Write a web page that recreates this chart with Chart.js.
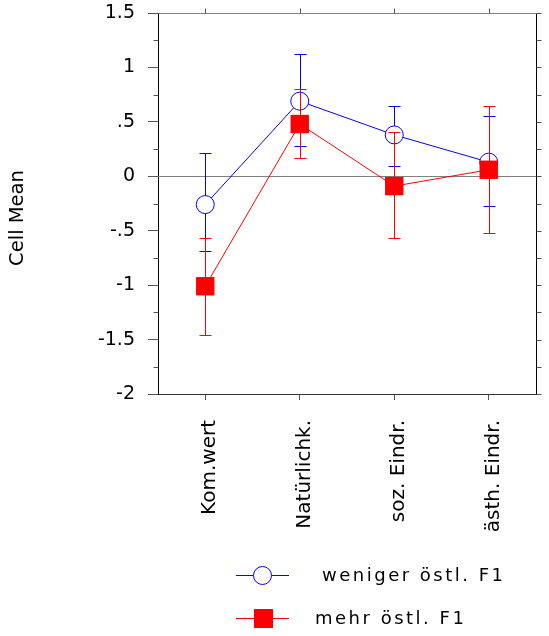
<!DOCTYPE html>
<html>
<head>
<meta charset="utf-8">
<script src="https://cdn.jsdelivr.net/npm/chart.js@4.4.1/dist/chart.umd.min.js"></script>
<style>
  html, body { margin: 0; padding: 0; background: #fff; }
  #wrap { width: 549px; height: 636px; }
</style>
</head>
<body>
<div id="wrap"><canvas id="meanChart" width="549" height="636"></canvas></div>
<script>
// values
const categories = ['Kom.wert', 'Natürlichk.', 'soz. Eindr.', 'ästh. Eindr.'];
const seriesNames = ['weniger östl. F1', 'mehr östl. F1'];
const wenigerMean = [-0.26, 0.69, 0.38, 0.13];
const wenigerUpper = [0.21, 1.12, 0.65, 0.55];
const wenigerLower = [-0.69, 0.28, 0.09, -0.27];
const mehrMean = [-1.01, 0.48, -0.09, 0.06];
const mehrUpper = [-0.57, 0.80, 0.41, 0.65];
const mehrLower = [-1.46, 0.17, -0.57, -0.52];
const yTicks = [1.5, 1, 0.5, 0, -0.5, -1, -1.5, -2];

const FONT = '"DejaVu Sans", Verdana, sans-serif';
const BLUE = '#0000ff';
const RED = '#ff0000';
const seriesColors = [BLUE, RED];

function fmtTick(v) {
    return String(v).replace('0.', '.');
}

// error bars, drawn right before each dataset so the stacking matches
const errorBars = {
    id: 'errorBars',
    beforeDatasetDraw(chart, args) {
        const ds = chart.data.datasets[args.index];
        const y = chart.scales.y;
        const ctx = chart.ctx;
        ctx.save();
        ctx.strokeStyle = seriesColors[args.index];
        ctx.lineWidth = 1;
        ctx.setLineDash([]);
        args.meta.data.forEach((pt, i) => {
            const x = Math.round(pt.x) + 0.5;
            const top = Math.round(y.getPixelForValue(ds.upper[i])) + 0.5;
            const bot = Math.round(y.getPixelForValue(ds.lower[i])) + 0.5;
            ctx.beginPath();
            ctx.moveTo(x, top);
            ctx.lineTo(x, bot);
            ctx.moveTo(x - 6, top);
            ctx.lineTo(x + 6, top);
            ctx.moveTo(x - 6, bot);
            ctx.lineTo(x + 6, bot);
            ctx.stroke();
        });
        ctx.restore();
    }
};

// frame, zero line, minor ticks, title and legend
const frame = {
    id: 'frame',
    beforeDatasetsDraw(chart) {
        const { ctx, chartArea: a, scales } = chart;
        const y0 = Math.round(scales.y.getPixelForValue(0)) + 0.5;
        ctx.save();
        ctx.strokeStyle = '#808080';
        ctx.lineWidth = 1;
        ctx.beginPath();
        ctx.moveTo(a.left, y0);
        ctx.lineTo(a.right, y0);
        ctx.stroke();
        ctx.restore();
    },
    afterDraw(chart) {
        const { ctx, chartArea: a, scales } = chart;
        const L = Math.round(a.left) + 0.5, R = Math.round(a.right) + 0.5;
        const T = Math.round(a.top) + 0.5, B = Math.round(a.bottom) + 0.5;
        ctx.save();
        ctx.lineWidth = 1;
        // top border (gray) and right axis (black)
        ctx.strokeStyle = '#808080';
        ctx.beginPath();
        ctx.moveTo(L, T); ctx.lineTo(R, T);
        ctx.stroke();
        ctx.strokeStyle = '#000';
        ctx.beginPath();
        ctx.moveTo(R, T); ctx.lineTo(R, B);
        ctx.stroke();
        // minor ticks on the left, all ticks on the right
        ctx.strokeStyle = '#555';
        ctx.beginPath();
        for (let v = -2; v <= 1.5001; v += 0.25) {
            const py = Math.round(scales.y.getPixelForValue(v)) + 0.5;
            if (Math.abs(v * 2 - Math.round(v * 2)) > 0.01) {
                ctx.moveTo(L - 5, py); ctx.lineTo(L, py);
            }
            ctx.moveTo(R, py); ctx.lineTo(R + 5, py);
        }
        // top ticks at each category
        categories.forEach((c, i) => {
            const px = Math.round(scales.x.getPixelForValue(i)) + 0.5;
            ctx.moveTo(px, T - 5); ctx.lineTo(px, T);
        });
        ctx.stroke();

        // y title
        ctx.fillStyle = '#000';
        ctx.font = '19.5px ' + FONT;
        ctx.textAlign = 'center';
        ctx.textBaseline = 'middle';
        ctx.translate(18, 218);
        ctx.rotate(-Math.PI / 2);
        ctx.fillText('Cell Mean', 0, 0);
        ctx.restore();

        // legend
        ctx.save();
        ctx.font = '18px ' + FONT;
        ctx.textBaseline = 'middle';
        ctx.textAlign = 'left';
        try { ctx.letterSpacing = '2.5px'; } catch (e) {}
        const rows = [
            { y: 575, style: 'circle', textX: 322 },
            { y: 618, style: 'rect', textX: 315 }
        ];
        rows.forEach((r, i) => {
            ctx.strokeStyle = seriesColors[i];
            ctx.lineWidth = 1;
            ctx.beginPath();
            ctx.moveTo(236, r.y + 0.5); ctx.lineTo(289, r.y + 0.5);
            ctx.stroke();
            if (r.style === 'circle') {
                ctx.fillStyle = '#fff';
                ctx.beginPath();
                ctx.arc(262.5, r.y + 0.5, 9, 0, Math.PI * 2);
                ctx.fill();
                ctx.stroke();
            } else {
                ctx.fillStyle = RED;
                ctx.fillRect(254, r.y - 9, 19, 19);
            }
            ctx.fillStyle = '#000';
            ctx.fillText(seriesNames[i], r.textX, r.y + 1);
        });
        ctx.restore();
    }
};

const ctx = document.getElementById('meanChart').getContext('2d');
new Chart(ctx, {
    type: 'line',
    data: {
        labels: categories,
        datasets: [{
            label: seriesNames[0],
            data: wenigerMean,
            upper: wenigerUpper,
            lower: wenigerLower,
            borderColor: BLUE,
            backgroundColor: '#fff',
            borderWidth: 1,
            pointStyle: 'circle',
            pointRadius: 9,
            pointBorderWidth: 1,
            tension: 0,
            order: 1
        }, {
            label: seriesNames[1],
            data: mehrMean,
            upper: mehrUpper,
            lower: mehrLower,
            borderColor: RED,
            backgroundColor: RED,
            borderWidth: 1,
            pointStyle: 'rect',
            pointRadius: 13,
            pointBorderWidth: 0,
            tension: 0,
            order: 0
        }]
    },
    options: {
        responsive: false,
        animation: false,
        devicePixelRatio: 1,
        layout: { padding: { top: 10, right: 6, left: 0, bottom: 0 } },
        plugins: {
            legend: { display: false },
            tooltip: { enabled: false }
        },
        scales: {
            x: {
                offset: true,
                afterFit(scale) {
                    scale.height = 242;
                    scale.paddingLeft = 0;
                    scale.paddingRight = 0;
                },
                grid: { drawOnChartArea: false, tickLength: 6, color: '#555' },
                border: { color: '#333', width: 1 },
                ticks: {
                    minRotation: 90,
                    maxRotation: 90,
                    padding: 20,
                    labelOffset: 5,
                    color: '#000',
                    font: { family: FONT, size: 20 }
                }
            },
            y: {
                min: -2,
                max: 1.5,
                afterFit(scale) {
                    scale.width = 158;
                    scale.paddingTop = 0;
                    scale.paddingBottom = 0;
                },
                afterBuildTicks(scale) {
                    scale.ticks = yTicks.map(v => ({ value: v }));
                },
                grid: { drawOnChartArea: false, tickLength: 10, color: '#555' },
                border: { color: '#000', width: 1 },
                ticks: {
                    padding: 13,
                    color: '#000',
                    font: { family: FONT, size: 19 },
                    callback: v => fmtTick(v)
                }
            }
        }
    },
    plugins: [errorBars, frame]
});
</script>
</body>
</html>
